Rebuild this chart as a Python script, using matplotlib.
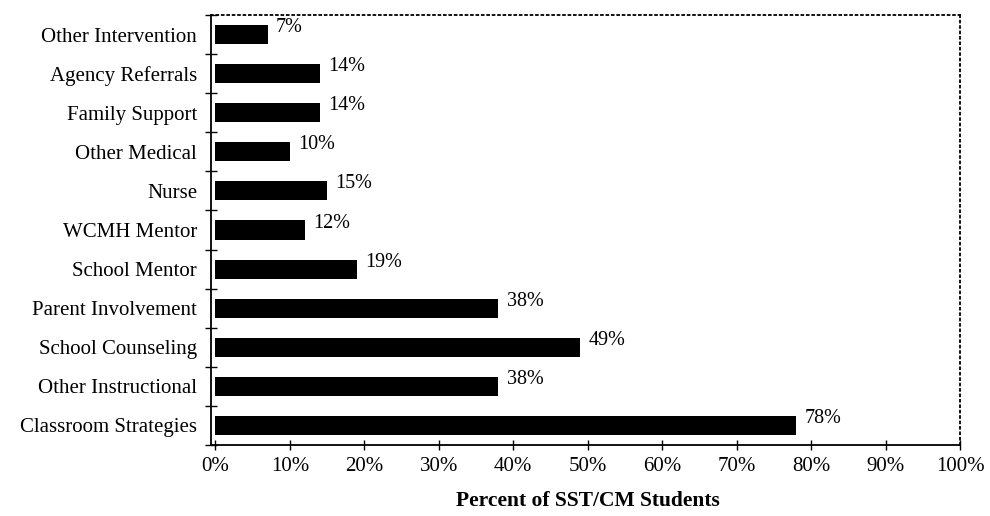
#!/usr/bin/env python
"""Horizontal bar chart of services received by SST/CM students."""

import matplotlib

matplotlib.use("Agg")
import matplotlib.pyplot as plt
from matplotlib.ticker import FixedLocator

# Categories listed bottom to top
CATEGORIES = [
    "Classroom Strategies",
    "Other Instructional",
    "School Counseling",
    "Parent Involvement",
    "School Mentor",
    "WCMH Mentor",
    "Nurse",
    "Other Medical",
    "Family Support",
    "Agency Referrals",
    "Other Intervention",
]
PERCENTS = [78, 38, 49, 38, 19, 12, 15, 10, 14, 14, 7]
X_TICKS = [0, 10, 20, 30, 40, 50, 60, 70, 80, 90, 100]

plt.rcParams["font.family"] = ["Liberation Serif", "DejaVu Serif"]

fig = plt.figure(figsize=(9.9, 5.16), dpi=100)
ax = fig.add_axes([211 / 990, 1 - 445 / 516, (960 - 211) / 990, (445 - 15) / 516])

y = list(range(len(CATEGORIES)))
ax.barh(y, PERCENTS, height=0.49, color="black", linewidth=0)

for yi, pct in zip(y, PERCENTS):
    ax.annotate(
        f"{pct}%",
        xy=(pct, yi),
        xytext=(6, 5),
        textcoords="offset points",
        ha="left",
        va="center",
        fontsize=14.5,
    )

ax.set_xlim(-0.6, 100)
ax.set_ylim(-0.5, len(CATEGORIES) - 0.5)

ax.set_xticks(X_TICKS)
ax.set_xticklabels([f"{t}%" for t in X_TICKS], fontsize=15)
ax.tick_params(axis="x", direction="inout", length=7, width=1, pad=5)

ax.set_yticks(y)
ax.set_yticklabels(CATEGORIES, fontsize=15)
ax.tick_params(axis="y", which="major", length=0, pad=10)
ax.yaxis.set_minor_locator(FixedLocator([i - 0.5 for i in range(len(CATEGORIES) + 1)]))
ax.tick_params(axis="y", which="minor", direction="inout", length=8, width=1)

for side in ("left", "bottom"):
    ax.spines[side].set_linewidth(1.3)
for side in ("top", "right"):
    ax.spines[side].set_linestyle((0, (1, 2)))
    ax.spines[side].set_linewidth(1.3)

fig.text(588 / 990, 1 - 501 / 516, "Percent of SST/CM Students",
         ha="center", va="center", fontsize=15.5, fontweight="bold")

fig.savefig("out.png", dpi=100)
plt.close(fig)
